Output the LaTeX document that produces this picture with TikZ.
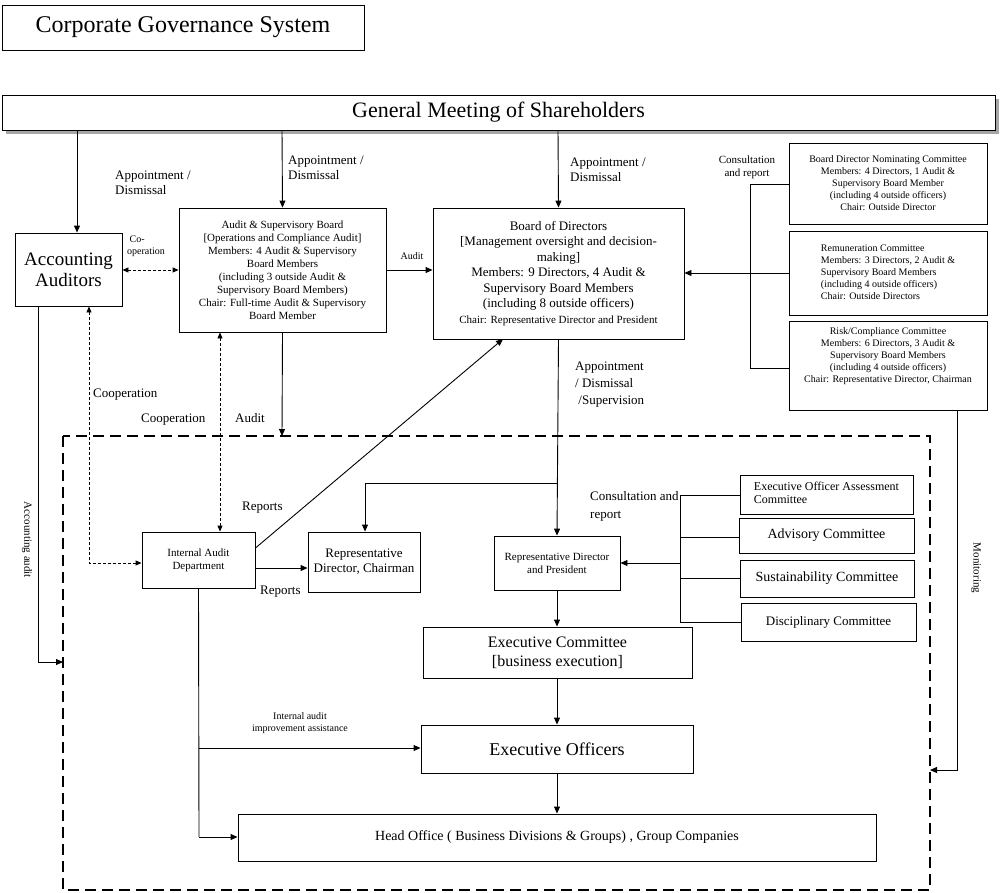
\documentclass[tikz,border=0pt]{standalone}
\usepackage{fontspec}
\setmainfont{Liberation Serif}
\usetikzlibrary{arrows.meta}
\begin{document}
\begin{tikzpicture}[x=1pt,y=-1pt,
  box/.style={draw,line width=0.9pt,inner sep=0pt,align=center},
  arr/.style={line width=0.9pt,-{Triangle[length=7pt,width=6pt]}},
  ln/.style={line width=0.9pt},
  dsh/.style={line width=0.9pt,dash pattern=on 3pt off 2pt},
  lb/.style={align=left,inner sep=0pt,anchor=north west,font=\fontsize{13}{15}\selectfont},
  sm/.style={font=\fontsize{10}{12}\selectfont}]
\useasboundingbox (0,0) rectangle (1000,892);
% boxes
\node[box,minimum width=362,minimum height=45,font=\fontsize{24}{26}\selectfont] (title) at (183,27.5) {Corporate Governance System};
\fill[gray!70] (6,99) rectangle (999,134);
\node[box,fill=white,minimum width=993,minimum height=35,font=\fontsize{22}{24}\selectfont] (gm) at (498.5,112.5) {General Meeting of Shareholders};
\node[box,minimum width=107,minimum height=73,font=\fontsize{19}{21}\selectfont] (acc) at (68.5,269.5) {Accounting\\Auditors};
\node[box,minimum width=207,minimum height=124,font=\fontsize{11}{13}\selectfont] (asb) at (282.5,270) {Audit \& Supervisory Board\\ {[Operations and Compliance Audit]}\\ Members: 4 Audit \& Supervisory\\ Board Members\\ (including 3 outside Audit \&\\ Supervisory Board Members)\\ Chair: Full-time Audit \& Supervisory\\ Board Member};
\node[box,minimum width=251,minimum height=131,font=\fontsize{13}{15.5}\selectfont] (bod) at (558.5,273.5) {Board of Directors\\ {[Management oversight and decision-}\\ making]\\ Members: 9 Directors, 4 Audit \&\\ Supervisory Board Members\\ (including 8 outside officers)\\ {\fontsize{11}{13}\selectfont Chair: Representative Director and President}};
\node[box,minimum width=198,minimum height=81,font=\fontsize{10}{12}\selectfont] (nom) at (888,183.5) {Board Director Nominating Committee\\ Members: 4 Directors, 1 Audit \&\\ Supervisory Board Member\\ (including 4 outside officers)\\ Chair: Outside Director};
\node[box,minimum width=198,minimum height=84,font=\fontsize{10}{12}\selectfont] (rem) at (888,273) {\begin{tabular}{@{}l@{}}Remuneration Committee\\ Members: 3 Directors, 2 Audit \&\\ Supervisory Board Members\\ (including 4 outside officers)\\ Chair: Outside Directors\end{tabular}};
\node[box,minimum width=198,minimum height=89,font=\fontsize{10}{12}\selectfont] (risk) at (888,365.5) {Risk/Compliance Committee\\ Members: 6 Directors, 3 Audit \&\\ Supervisory Board Members\\ (including 4 outside officers)\\ Chair: Representative Director, Chairman\\[8pt]};
\draw[line width=1.1pt,dash pattern=on 11pt off 6pt] (63,436) rectangle (930,890);
\node[box,minimum width=113,minimum height=56,font=\fontsize{11}{13}\selectfont] (ia) at (198.5,560) {Internal Audit\\ Department};
\node[box,minimum width=112,minimum height=60,font=\fontsize{13}{15}\selectfont] (rdc) at (364,562) {Representative\\ Director, Chairman};
\node[box,minimum width=126,minimum height=54,font=\fontsize{11}{13}\selectfont] (rdp) at (557,563) {Representative Director\\ and President};
\node[box,minimum width=173,minimum height=39,font=\fontsize{12}{13}\selectfont] (eoa) at (826.5,494.5) {\begin{tabular}{@{}l@{}}Executive Officer Assessment\\ Committee\end{tabular}};
\node[box,minimum width=175,minimum height=35,font=\fontsize{14}{16}\selectfont] (adv) at (826.5,535.5) {Advisory Committee};
\node[box,minimum width=174,minimum height=37,font=\fontsize{14}{16}\selectfont] (sus) at (827,578.5) {Sustainability Committee};
\node[box,minimum width=175,minimum height=38,font=\fontsize{13}{15}\selectfont] (dis) at (828.5,622) {Disciplinary Committee};
\node[box,minimum width=269,minimum height=51,font=\fontsize{16}{19}\selectfont] (ec) at (557.5,652.5) {Executive Committee\\ {[business execution]}};
\node[box,minimum width=272,minimum height=48,font=\fontsize{18}{20}\selectfont] (eo) at (557,749) {Executive Officers};
\node[box,minimum width=638,minimum height=47,font=\fontsize{14}{16}\selectfont] (ho) at (557,837.5) {Head Office ( Business Divisions \& Groups) , Group Companies};
% arrows from GM
\draw[arr] (77,130) -- (acc.north -| 77,0);
\draw[arr] (282,130) -- (asb.north);
\draw[arr] (558,130) -- (bod.north);
\draw[dsh,{Triangle[length=6pt,width=5pt]}-{Triangle[length=6pt,width=5pt]}] (acc.east |- 0,270) -- (asb.west |- 0,270);
\draw[arr] (asb.east |- 0,270) -- (bod.west |- 0,270);
% committees bracket
\draw[ln] (nom.west |- 0,184) -- (750,184) -- (750,368) -- (risk.west |- 0,368);
\draw[arr] (rem.west |- 0,273) -- (bod.east |- 0,273);
% ASB audit down
\coordinate (dtop) at (282,436);
\draw[arr] (asb.south) -- (dtop);
% cooperation dashed
\draw[dsh,{Triangle[length=6pt,width=5pt]}-{Triangle[length=6pt,width=5pt]}] (acc.south -| 89,0) -- (89,563) -- (ia.west |- 0,563);
\draw[dsh,{Triangle[length=6pt,width=5pt]}-{Triangle[length=6pt,width=5pt]}] (asb.south -| 220,0) -- (ia.north -| 220,0);
% accounting audit
\coordinate (aa) at (63,662);
\draw[arr] (acc.south -| 38,0) -- (38,662) -- (aa);
% BoD down
\draw[arr] (bod.south) -- (rdp.north);
\draw[arr] (558,483) -- (365,483) -- (rdc.north -| 365,0);
% IA reports
\draw[arr] (ia.east |- 0,548) -- (503,339);
\draw[arr] (ia.east |- 0,568) -- (rdc.west |- 0,568);
\draw[ln] (ia.south) -- (199,837);
\draw[arr] (199,837) -- (ho.west |- 0,837);
\draw[arr] (199,748) -- (eo.west |- 0,748);
% exec committees bracket
\draw[ln] (eoa.west |- 0,495) -- (680,495) -- (680,622) -- (dis.west |- 0,622);
\draw[ln] (680,537) -- (adv.west |- 0,537);
\draw[ln] (680,578) -- (sus.west |- 0,578);
\draw[arr] (680,563) -- (rdp.east |- 0,563);
% chain
\draw[arr] (rdp.south) -- (ec.north -| rdp.south);
\draw[arr] (ec.south -| eo.north) -- (eo.north);
\draw[arr] (eo.south) -- (ho.north -| eo.south);
% monitoring
\coordinate (mon) at (930,770);
\draw[arr] (risk.south -| 957,0) -- (957,770) -- (mon);
% labels
\node[lb] (l1) at (115,171) {Appointment /\\Dismissal};
\node[lb] (l2) at (288,156) {Appointment /\\Dismissal};
\node[lb] (l3) at (570,158) {Appointment /\\Dismissal};
\node[align=center,inner sep=0pt,font=\fontsize{11}{13}\selectfont] (l4) at (747,167) {Consultation\\and report};
\node[lb,sm] (l5) at (127,236) {\ Co-\\operation};
\node[sm,inner sep=0pt] (l6) at (412,256) {Audit};
\node[lb] (l7) at (93,389) {Cooperation};
\node[lb] (l8) at (141,414) {Cooperation};
\node[lb] (l9) at (235,413) {Audit};
\node[lb,font=\fontsize{13}{17}\selectfont] (l10) at (575,362) {Appointment\\ / Dismissal\\ \ /Supervision};
\node[lb] (l11) at (242,502) {Reports};
\node[lb] (l12) at (260,586) {Reports};
\node[lb,font=\fontsize{13}{18}\selectfont] (l13) at (590,491) {Consultation and\\report};
\node[align=center,inner sep=0pt,sm] (l14) at (300,723) {Internal audit\\improvement assistance};
\node[rotate=-90,inner sep=0pt,font=\fontsize{11}{13}\selectfont] (l15) at (27,540) {Accounting audit};
\node[rotate=-90,inner sep=0pt,font=\fontsize{11}{13}\selectfont] (l16) at (976,568) {Monitoring};
\end{tikzpicture}
\end{document}
